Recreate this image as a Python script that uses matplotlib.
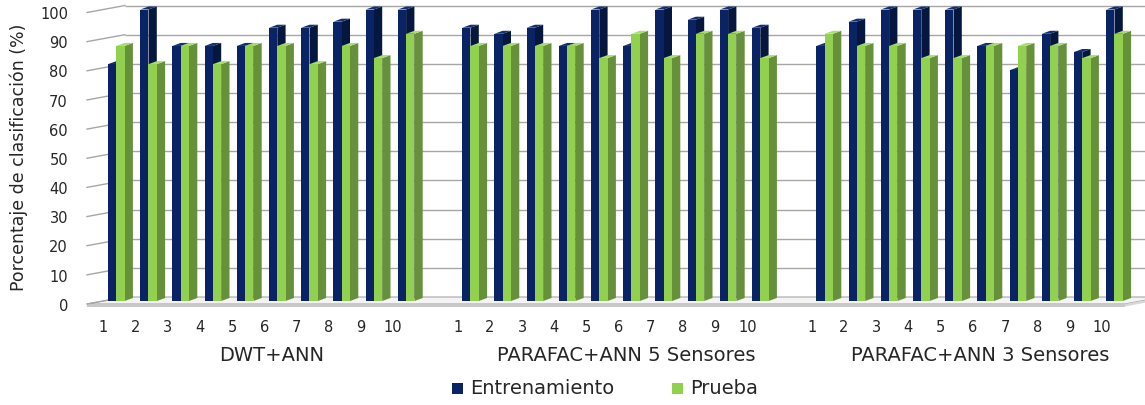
import matplotlib
matplotlib.use("Agg")
import matplotlib.pyplot as plt
from matplotlib.patches import Polygon, Rectangle

# ---- data -------------------------------------------------------------
groups = ["DWT+ANN", "PARAFAC+ANN 5 Sensores", "PARAFAC+ANN 3 Sensores"]
runs = [str(i) for i in range(1, 11)]

entrenamiento_dwt = [81.25, 100, 87.5, 87.5, 87.5, 93.75, 93.75, 95.83, 100, 100]
entrenamiento_p5 = [93.75, 91.67, 93.75, 87.5, 100, 87.5, 100, 96.5, 100, 93.75]
entrenamiento_p3 = [87.5, 95.83, 100, 100, 100, 87.5, 79.17, 91.67, 85.42, 100]

prueba_dwt = [87.5, 81.25, 87.5, 81.25, 87.5, 87.5, 81.25, 87.5, 83.33, 91.67]
prueba_p5 = [87.5, 87.5, 87.5, 87.5, 83.33, 91.67, 83.33, 91.67, 91.67, 83.33]
prueba_p3 = [91.67, 87.5, 87.5, 83.33, 83.33, 87.5, 87.5, 87.5, 83.33, 91.67]

yticks = list(range(0, 101, 10))
series_names = ["Entrenamiento", "Prueba"]

entrenamiento = [entrenamiento_dwt, entrenamiento_p5, entrenamiento_p3]
prueba = [prueba_dwt, prueba_p5, prueba_p3]

# ---- geometry of the pseudo-3D drawing ----------------------------------
W, H = 1145, 406
SX, SY = 32.2, 2.915          # pixels per category slot / per percent
X0, Y0 = 116.3, 302.0         # pixel position of slot 0 / value 0


def dxp(p):
    return p / SX


def dyp(p):
    return p / SY


BW = dxp(8.3)                  # front face width of one bar
DEPTH_X, DEPTH_Y = dxp(8.3), dyp(3.0)
FRONT_OFF, BACK_OFF = dyp(-3.0), dyp(4.0)
WALL_FRONT_X, WALL_BACK_X = dxp(87 - X0), dxp(125 - X0)
FLOOR_FRONT_R, FLOOR_BACK_R = dxp(1125 - X0), dxp(1162 - X0)

C_BLUE = "#0a2365"
C_BLUE_SIDE = "#05173f"
C_BLUE_TOP = "#13306f"
C_GREEN = "#92d050"
C_GREEN_SIDE = "#66913a"
C_GREEN_TOP = "#a9dc72"
C_GRID = "#a6a6a6"

fig = plt.figure(figsize=(W / 100, H / 100), dpi=100)
ax = fig.add_axes([0, 0, 1, 1])
ax.set_xlim(-X0 / SX, (W - X0) / SX)
ax.set_ylim((Y0 - H) / SY, Y0 / SY)
ax.axis("off")

# floor
floor = Polygon([(WALL_FRONT_X, FRONT_OFF), (FLOOR_FRONT_R, FRONT_OFF),
                 (FLOOR_BACK_R, BACK_OFF), (WALL_BACK_X, BACK_OFF)],
                closed=True, facecolor="#f4f4f4", edgecolor=C_GRID, lw=0.8, zorder=1)
ax.add_patch(floor)
slab = Polygon([(WALL_FRONT_X, FRONT_OFF), (FLOOR_FRONT_R, FRONT_OFF),
                (FLOOR_FRONT_R, FRONT_OFF - dyp(2.5)), (WALL_FRONT_X, FRONT_OFF - dyp(2.5))],
               closed=True, facecolor="#c8c8c8", edgecolor="none", zorder=1)
ax.add_patch(slab)
slab_side = Polygon([(FLOOR_FRONT_R, FRONT_OFF), (FLOOR_BACK_R, BACK_OFF),
                     (FLOOR_BACK_R, BACK_OFF - dyp(2.5)), (FLOOR_FRONT_R, FRONT_OFF - dyp(2.5))],
                    closed=True, facecolor="#d8d8d8", edgecolor="none", zorder=1)
ax.add_patch(slab_side)

# walls: gridlines on the back wall and the left side wall
for v in yticks:
    if v > 0:
        ax.plot([WALL_BACK_X, (W - X0) / SX], [v + BACK_OFF] * 2,
                color=C_GRID, lw=1.0, zorder=1, solid_capstyle="butt")
    ax.plot([WALL_FRONT_X, WALL_BACK_X], [v + FRONT_OFF, v + BACK_OFF],
            color=C_GRID, lw=1.0, zorder=1)
    ax.text(dxp(68 - X0), v + FRONT_OFF - 0.4, str(v), ha="right", va="center",
            fontsize=10.5, color="#262626", family="DejaVu Sans")


def draw_bars(xs, vals, front, side, top, z):
    ax.bar(xs, vals, width=BW, align="edge", color=front, lw=0, zorder=z + 0.2)
    for x, v in zip(xs, vals):
        xr = x + BW
        ax.add_patch(Polygon([(xr, 0), (xr + DEPTH_X, DEPTH_Y),
                              (xr + DEPTH_X, v + DEPTH_Y), (xr, v)],
                             closed=True, facecolor=side, lw=0, zorder=z))
        ax.add_patch(Polygon([(x, v), (xr, v), (xr + DEPTH_X, v + DEPTH_Y),
                              (x + DEPTH_X, v + DEPTH_Y)],
                             closed=True, facecolor=top, lw=0, zorder=z + 0.1))


for g, name in enumerate(groups):
    slots = [i + 11 * g for i in range(len(runs))]
    draw_bars([s - BW for s in slots], entrenamiento[g], C_BLUE, C_BLUE_SIDE, C_BLUE_TOP, 2)
    draw_bars(slots, prueba[g], C_GREEN, C_GREEN_SIDE, C_GREEN_TOP, 3)
    for s, lab in zip(slots, runs):
        ax.text(s - 0.4, dyp(Y0 - 328), lab, ha="center", va="center",
                fontsize=10.5, color="#262626", family="DejaVu Sans")
    ax.text(4.5 + 11 * g + 0.33, dyp(Y0 - 356), name, ha="center", va="center",
            fontsize=14, color="#262626", family="DejaVu Sans")

# axis title
ax.text(dxp(19 - X0), dyp(Y0 - 157), "Porcentaje de clasificación (%)",
        rotation=90, ha="center", va="center", fontsize=12.5, color="#262626",
        family="DejaVu Sans")

# legend
leg_y = dyp(Y0 - 389)
for cx, tx, col, lab in [(457.5, 470, C_BLUE, series_names[0]),
                         (678, 690, C_GREEN, series_names[1])]:
    ax.add_patch(Rectangle((dxp(cx - 5.5 - X0), leg_y - dyp(5.5)), dxp(11), dyp(11),
                           facecolor=col, lw=0, zorder=5))
    ax.text(dxp(tx - X0), leg_y, lab, ha="left", va="center", fontsize=14,
            color="#262626", family="DejaVu Sans")

fig.savefig("out.png", dpi=100)
